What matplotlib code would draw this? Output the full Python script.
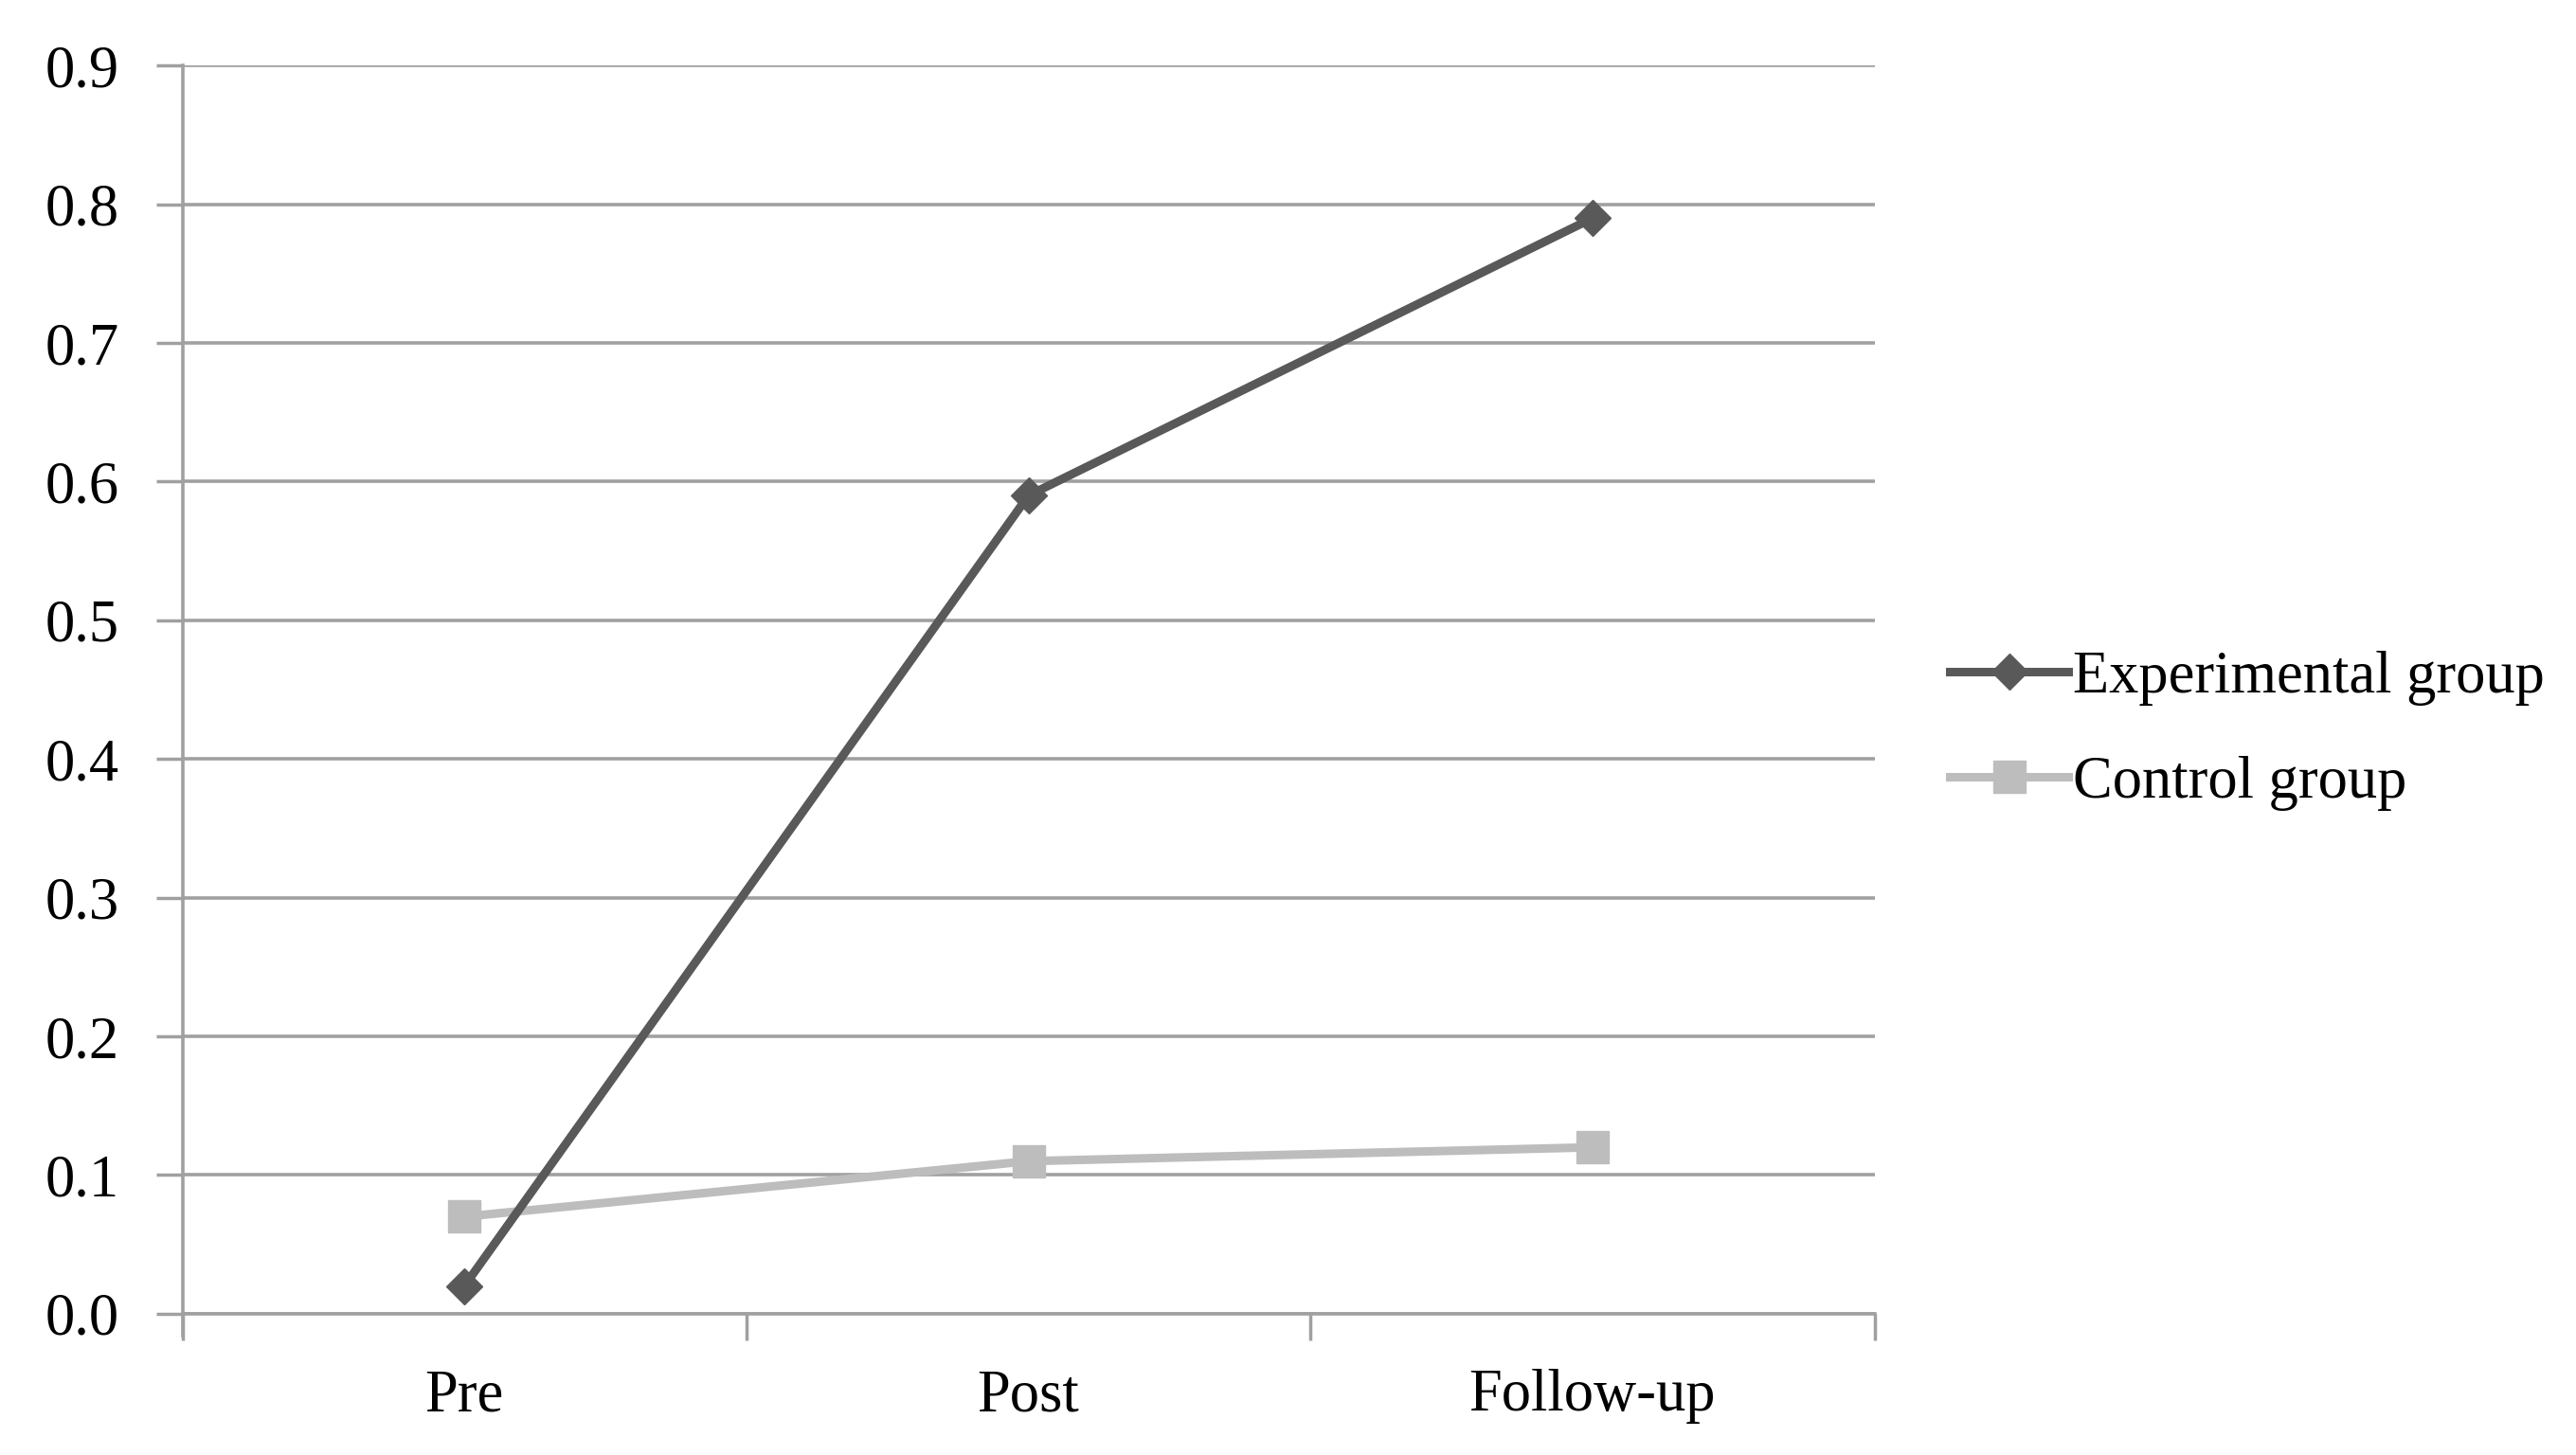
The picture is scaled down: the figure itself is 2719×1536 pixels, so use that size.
import numpy as np
import matplotlib.pyplot as plt

# chart data
phases = ['Pre', 'Post', 'Follow-up']
experimental = [0.02, 0.59, 0.79]
control = [0.07, 0.11, 0.12]
y_ticks = [0.0, 0.1, 0.2, 0.3, 0.4, 0.5, 0.6, 0.7, 0.8, 0.9]

plt.rcParams['font.family'] = ['Liberation Serif', 'DejaVu Serif']

fig = plt.figure(figsize=(27.19, 15.36), dpi=100)
ax = fig.add_axes([0.0708, 0.0971, 0.6569, 0.8578])

x = np.arange(len(phases))
ax.plot(x, experimental, color='#595959', lw=6.5, marker='D', ms=19,
        label='Experimental group', zorder=4)
ax.plot(x, control, color='#bdbdbd', lw=6.5, marker='s', ms=25,
        label='Control group', zorder=3)

ax.set_xlim(-0.5, len(phases) - 0.5)
ax.set_ylim(0, 0.9)
ax.set_yticks(y_ticks)
ax.set_yticklabels(['%.1f' % v for v in y_ticks])

# category labels centred, tick marks on boundaries
ax.set_xticks(np.arange(len(phases) + 1) - 0.5)
ax.set_xticklabels([])
ax.set_xticks(x, minor=True)
ax.set_xticklabels(phases, minor=True)
ax.tick_params(axis='x', which='minor', length=0, pad=42, labelsize=45)
ax.tick_params(axis='x', which='major', length=20, width=2.5, color='#a0a0a0')
ax.tick_params(axis='y', length=20, width=2.5, color='#a0a0a0', pad=28, labelsize=45)

ax.yaxis.grid(True, color='#a0a0a0', lw=2.6)
ax.set_axisbelow(True)
for s in ['top', 'right']:
    ax.spines[s].set_visible(False)
ax.spines['left'].set_color('#a0a0a0')
ax.spines['left'].set_linewidth(2.6)
ax.spines['bottom'].set_color('#a0a0a0')
ax.spines['bottom'].set_linewidth(2.6)
ax.spines['left'].set_bounds(-0.0155, 0.9)

fig.legend(loc='center left', bbox_to_anchor=(0.757, 0.498),
           bbox_transform=fig.transFigure, frameon=False, fontsize=45,
           handlelength=2.0, handletextpad=0.08, labelspacing=0.85,
           borderpad=0, borderaxespad=0)

fig.savefig('out.png', dpi=100, facecolor='white')
